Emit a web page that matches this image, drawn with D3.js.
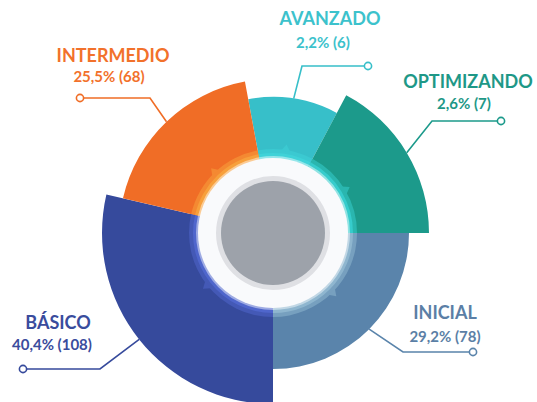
<!DOCTYPE html>
<html><head><meta charset="utf-8">
<script src="https://cdn.jsdelivr.net/npm/d3@7"></script>
<style>html,body{margin:0;padding:0;background:#fff;} svg{display:block;}</style>
</head><body><svg id="chart" width="537" height="402"></svg>
<script>
// ---- data ----
const categories = ["AVANZADO", "OPTIMIZANDO", "INICIAL", "BÁSICO", "INTERMEDIO"];
const percents   = [2.2, 2.6, 29.2, 40.4, 25.5];
const counts     = [6, 7, 78, 108, 68];

// ---- layout (infographic design, not data) ----
const colors      = ["#37bfc9", "#1c9a8b", "#5a84ab", "#364a9c", "#f06d26"];
const glowColors  = ["#3fd2d8", "#36cccc", "#8fb6cf", "#4f66cc", "#f7a03c"];
const textColors  = ["#3cc2cc", "#1e9887", "#5b7fa6", "#3a4c9d", "#f2712b"];
const spanDeg     = [38.5, 62, 90, 103, 66.5];
const outerR      = [136, 156, 136, 171, 154];
const startDeg    = -10.5;
const titlePos    = [[330, 25], [468, 88], [445, 319], [58, 329], [113, 62]];
const valuePos    = [[323, 48], [464, 109], [445, 342], [52, 350], [109, 82]];
const dotPos      = [[368, 66], [501, 121], [473, 352], [23, 369], [80, 98]];
const elbowPos    = [[302, 66], [432, 121], [403, 352], [100, 369], [150, 98]];

const cx = 273, cy = 233;
const rad = d => d * Math.PI / 180;
const svg = d3.select("#chart");
const g = svg.append("g").attr("transform", `translate(${cx},${cy})`);

const locale = d3.formatLocale({decimal: ",", thousands: ".", grouping: [3], currency: ["", "€"]});
const fmt = locale.format(".1f");

const pie = d3.pie().sort(null).value((d, i) => spanDeg[i])
  .startAngle(rad(startDeg)).endAngle(rad(startDeg + 360));
const arcsData = pie(categories);

// sectors
g.selectAll("path.sector").data(arcsData).join("path")
  .attr("class", "sector")
  .attr("fill", (d, i) => colors[i])
  .attr("d", (d, i) => d3.arc().innerRadius(78).outerRadius(outerR[i])(d));

// glow bands
g.selectAll("path.glow1").data(arcsData).join("path")
  .attr("fill", (d, i) => d3.interpolateRgb(colors[i], glowColors[i])(0.55))
  .attr("d", d => d3.arc().innerRadius(74).outerRadius(84)(d));
g.selectAll("path.glow2").data(arcsData).join("path")
  .attr("fill", (d, i) => glowColors[i])
  .attr("d", d => d3.arc().innerRadius(74).outerRadius(80)(d));
g.selectAll("path.glow3").data(arcsData).join("path")
  .attr("fill", (d, i) => d3.interpolateRgb(glowColors[i], "#ffffff")(0.45))
  .attr("d", d => d3.arc().innerRadius(74).outerRadius(77)(d));

// triangles
arcsData.forEach((d, i) => {
  const a = (d.startAngle + d.endAngle) / 2;
  const pt = (r, da) => [r * Math.sin(a + da), -r * Math.cos(a + da)];
  const p1 = pt(83, -0.055), p2 = pt(83, 0.055), p3 = pt(89.5, 0);
  g.append("path").attr("d", `M${p1}L${p3}L${p2}Z`)
    .attr("fill", d3.interpolateRgb(colors[i], glowColors[i])(0.55));
});

// center rings
g.append("circle").attr("r", 75).attr("fill", "#f9fafc");
g.append("circle").attr("r", 57).attr("fill", "#dfe0e4");
g.append("circle").attr("r", 52).attr("fill", "#9da2aa");

// leaders
arcsData.forEach((d, i) => {
  const a = (d.startAngle + d.endAngle) / 2;
  const end = [cx + outerR[i] * Math.sin(a), cy - outerR[i] * Math.cos(a)];
  svg.append("path")
    .attr("d", d3.line()([dotPos[i], elbowPos[i], end]))
    .attr("fill", "none").attr("stroke", colors[i]).attr("stroke-width", 1.6);
  svg.append("circle").attr("cx", dotPos[i][0]).attr("cy", dotPos[i][1]).attr("r", 3.6)
    .attr("fill", "#fff").attr("stroke", colors[i]).attr("stroke-width", 1.6);
});

// labels
categories.forEach((c, i) => {
  svg.append("text").attr("x", titlePos[i][0]).attr("y", titlePos[i][1])
    .attr("text-anchor", "middle").attr("fill", textColors[i])
    .style("font-family", "Lato, sans-serif").style("font-weight", 700).style("font-size", "18px")
    .text(c);
  svg.append("text").attr("x", valuePos[i][0]).attr("y", valuePos[i][1])
    .attr("text-anchor", "middle").attr("fill", textColors[i])
    .style("font-family", "Lato, sans-serif").style("font-weight", 700).style("font-size", "15px")
    .text(`${fmt(percents[i])}% (${counts[i]})`);
});
</script></body></html>
